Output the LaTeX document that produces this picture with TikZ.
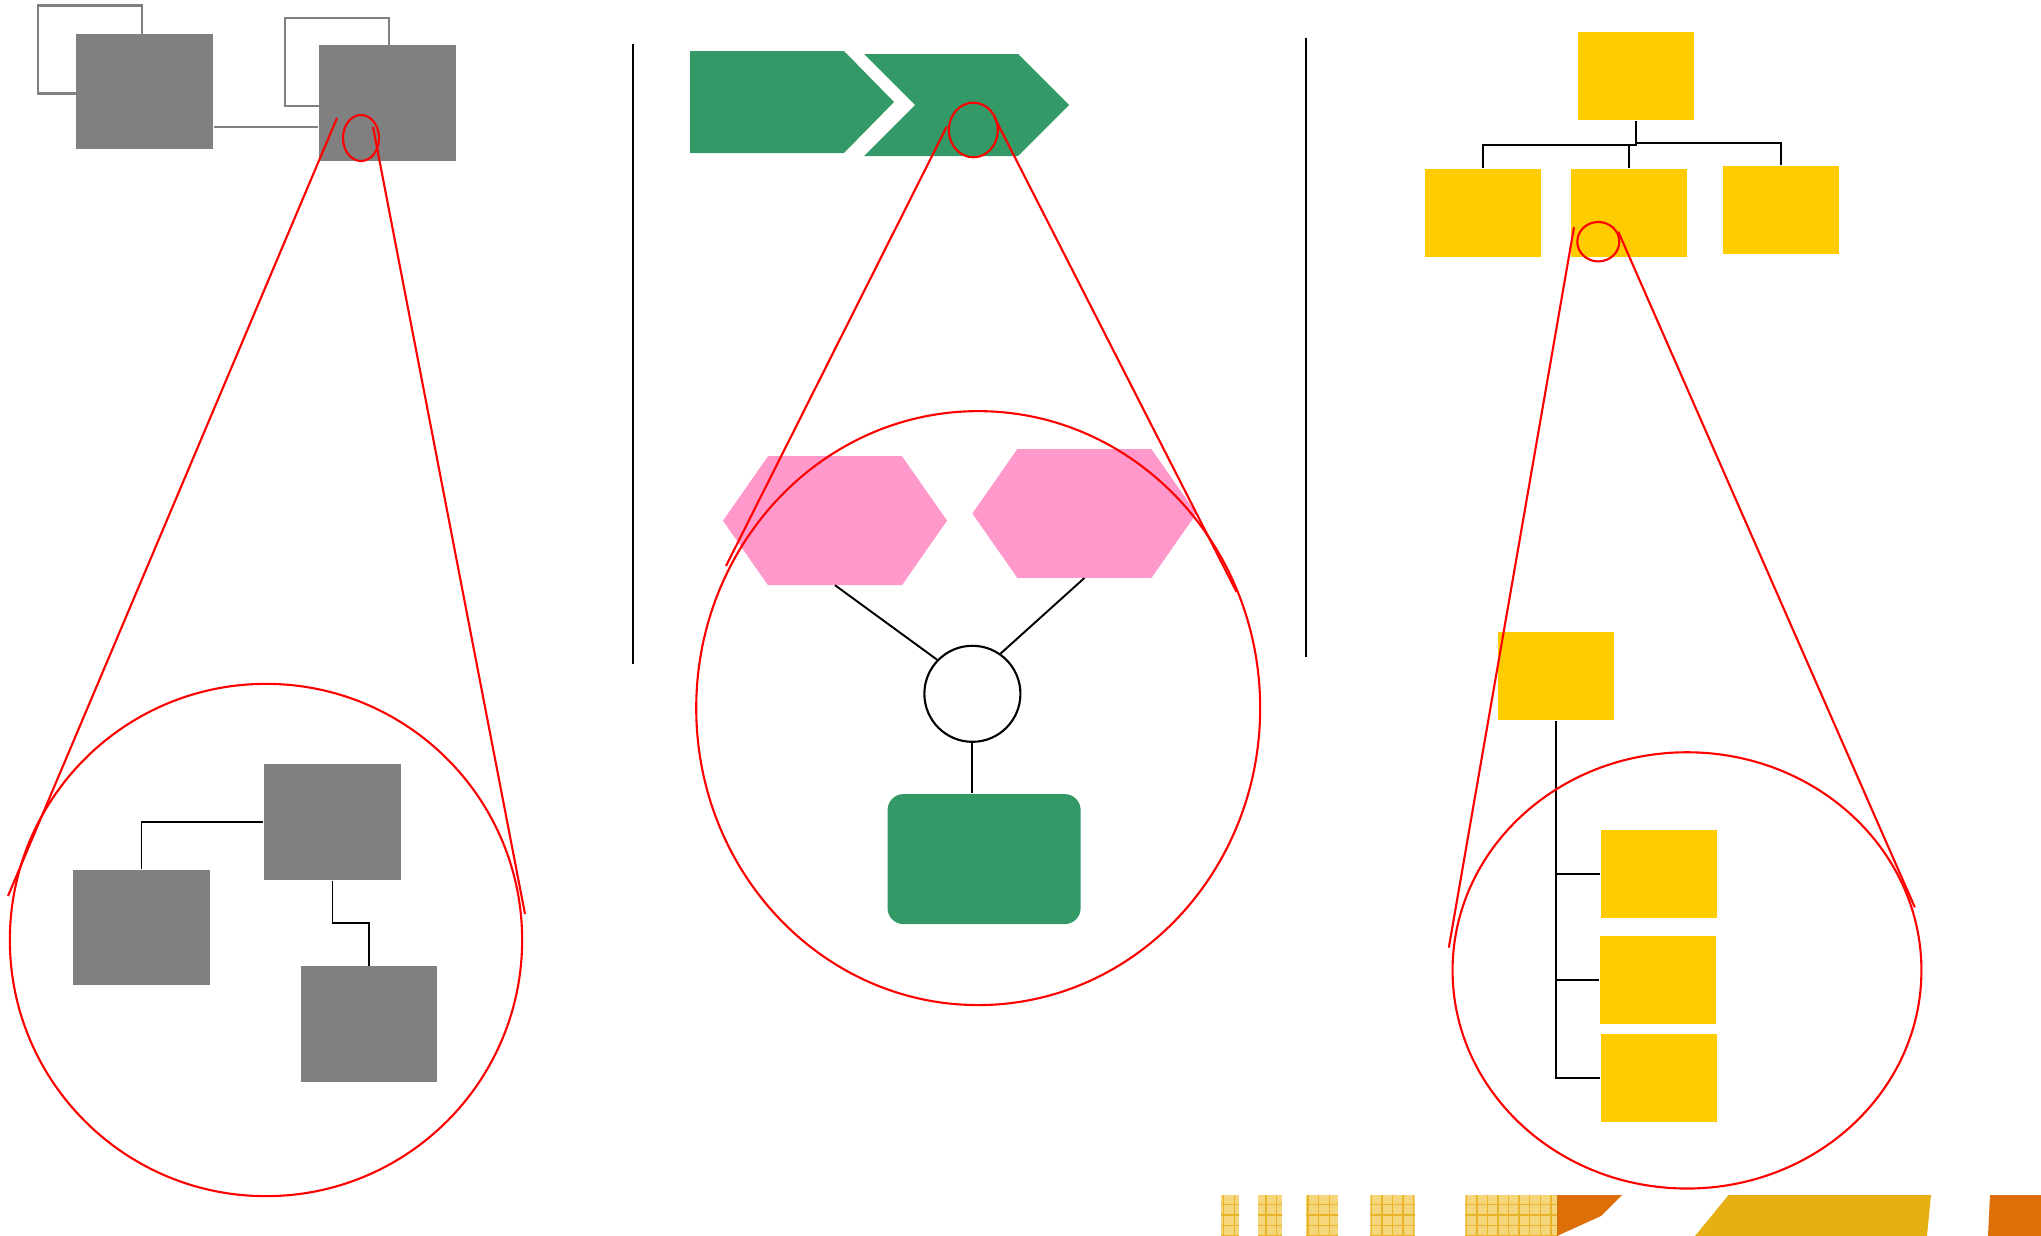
\documentclass[tikz,border=0pt]{standalone}
\usepackage{tikz}
\usetikzlibrary{calc, patterns}
\definecolor{boxgray}{RGB}{128,128,128}
\definecolor{leafgreen}{RGB}{51,153,102}
\definecolor{hexpink}{RGB}{255,153,204}
\definecolor{boxyellow}{RGB}{255,204,0}
\definecolor{stripgold}{RGB}{230,176,20}
\definecolor{stripcream}{RGB}{246,214,125}
\definecolor{stripgrid}{RGB}{232,180,40}
\definecolor{striporange}{RGB}{221,111,9}
\tikzset{
    zoomdiagram/.style={x=0.01cm, y=-0.01cm, line width=0.55pt},
    graybox/.style={fill=boxgray, minimum width=1.36cm, minimum height=1.15cm, inner sep=0pt},
    ghostbox/.style={draw=boxgray, line width=0.6pt, minimum width=1.04cm, minimum height=0.88cm, inner sep=0pt},
    yellowbox/.style={fill=boxyellow, minimum width=1.16cm, minimum height=0.88cm, inner sep=0pt},
    hexbox/.style={minimum width=2.22cm, minimum height=1.27cm, inner sep=0pt},
    hub/.style={draw, circle, fill=white, line width=0.6pt, minimum size=0.96cm, inner sep=0pt},
    greenbox/.style={fill=leafgreen, rounded corners=0.16cm, minimum width=1.93cm, minimum height=1.30cm, inner sep=0pt},
    tieline/.style={draw=black, line width=0.55pt},
    % elbow connector: down, across at half height, down
    elbow/.style={to path={|- ($(\tikztostart)!.5!(\tikztotarget)$) -| (\tikztotarget)}},
    lens/.style={draw=red, line width=0.6pt},
    divider/.style={draw=black, line width=0.6pt},
    stripcell/.style={fill=stripcream, postaction={pattern=grid, pattern color=stripgrid}},
}
\begin{document}
\begin{tikzpicture}[zoomdiagram]
    \useasboundingbox (0,0) rectangle (2041,1236);

    % left panel
    \node[ghostbox] (obox1) at (90,49.5)  {};
    \node[ghostbox] (obox2) at (337,62)   {};
    \node[graybox]  (gtop1) at (144.5,91.5) {};
    \node[graybox]  (gtop2) at (387.5,103)  {};
    \coordinate (glink) at (0,127);
    \draw[draw=boxgray, line width=0.6pt] (gtop1.east |- glink) -- (gtop2.west |- glink);

    \node[graybox] (gA) at (332.5,822)  {};
    \node[graybox] (gB) at (141.5,927.5) {};
    \node[graybox] (gC) at (369,1024)   {};
    \draw[tieline] (gA.west) -| (gB.north);
    \draw[tieline, elbow] (gA.south) to (gC.north);

    \draw[divider] (632.6,44) -- (632.6,664);

    % middle panel
    \fill[leafgreen] (690,51) -- (844,51) -- (894,102) -- (844,153) -- (690,153) -- cycle;
    \fill[leafgreen] (864,54) -- (1018,54) -- (1069,105) -- (1018,156) -- (864,156) -- (915,105) -- cycle;

    \node[hexbox] (hexL) at (835,520.7)    {};
    \node[hexbox] (hexR) at (1084.4,513.5) {};
    \foreach \h in {hexL, hexR}
        \fill[hexpink] (\h.west) -- ([xshift=0.45cm]\h.north west) -- ([xshift=-0.45cm]\h.north east)
            -- (\h.east) -- ([xshift=-0.45cm]\h.south east) -- ([xshift=0.45cm]\h.south west) -- cycle;
    \node[hub]      (hub)  at (972.4,693.8) {};
    \node[greenbox] (gbox) at (984.1,859.1) {};
    \draw[tieline] (hexL.south) -- (hub.136);
    \draw[tieline] (hexR.south) -- (hub.55);
    \draw[tieline] (hub.south) -- (hub.south |- gbox.north);

    \draw[divider] (1305.6,37.7) -- (1305.6,657.4);

    % right panel
    \node[yellowbox] (ytop) at (1635.9,76.4)  {};
    \node[yellowbox] (yl)   at (1483,213.4)   {};
    \node[yellowbox] (ym)   at (1629,213.4)   {};
    \node[yellowbox] (yr)   at (1780.9,210.4) {};
    \foreach \k in {yl, ym, yr}
        \draw[tieline, elbow] (ytop.south) to (\k.north);

    \node[yellowbox] (ypar) at (1556,676.4) {};
    \node[yellowbox] (yk1)  at (1659,874.4) {};
    \node[yellowbox] (yk2)  at (1658,980.4) {};
    \node[yellowbox] (yk3)  at (1659,1078)  {};
    \foreach \k in {yk1, yk2, yk3}
        \draw[tieline] (ypar.south) |- (\k.west);

    % zoom lenses
    \draw[lens] (361,138) ellipse [x radius=0.18cm, y radius=0.23cm];
    \draw[lens] (266,940) circle [radius=2.56cm];
    \draw[lens] (337,118) -- (8,896);
    \draw[lens] (373,127) -- (525,914);

    \draw[lens] (973.3,130) ellipse [x radius=0.245cm, y radius=0.273cm];
    \draw[lens] (978.2,708.1) ellipse [x radius=2.818cm, y radius=2.968cm];
    \draw[lens] (946.7,126.7) -- (726,566);
    \draw[lens] (994.3,117) -- (1236.6,592);

    \draw[lens] (1598.3,241.7) ellipse [x radius=0.21cm, y radius=0.197cm];
    \draw[lens] (1687,970.4) ellipse [x radius=2.343cm, y radius=2.18cm];
    \draw[lens] (1574,227.3) -- (1448.8,947.6);
    \draw[lens] (1618.3,231.7) -- (1914.8,907.3);

    % strip along the bottom
    \foreach \xa/\xb in {1221/1239, 1258/1282, 1306/1338, 1370/1415, 1465/1558}
        \path[stripcell] (\xa,1195) rectangle (\xb,1236);
    \fill[striporange] (1557,1195) -- (1622,1195) -- (1601,1216) -- (1557,1236) -- cycle;
    \fill[stripgold] (1728.5,1195) -- (1931,1195) -- (1927,1236) -- (1695,1236) -- cycle;
    \fill[striporange] (1990,1195) -- (2041,1195) -- (2041,1236) -- (1988,1236) -- cycle;
\end{tikzpicture}
\end{document}
